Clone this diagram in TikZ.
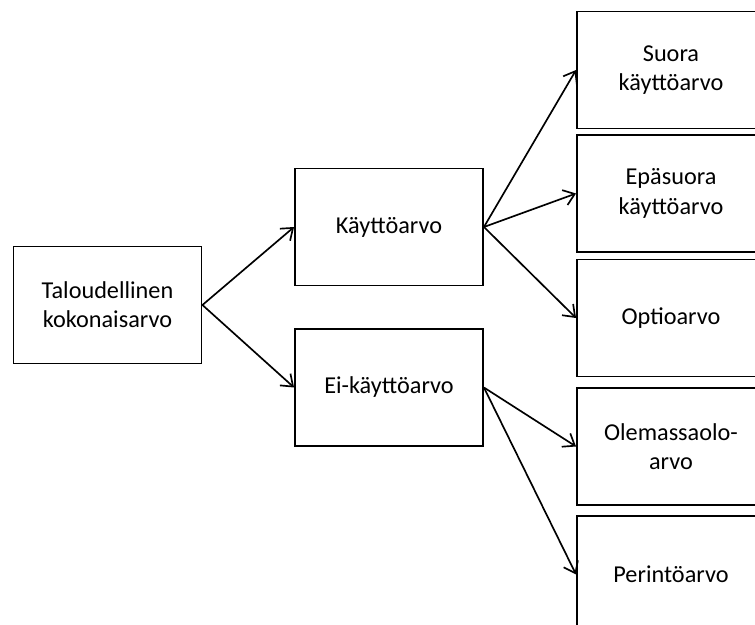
\documentclass[tikz,border=0pt]{standalone}
\usepackage{fontspec}
\setmainfont{Carlito}
\usetikzlibrary{arrows.meta}
\begin{document}
\begin{tikzpicture}[x=0.02cm,y=-0.02cm,
	every node/.style={draw,line width=1.1pt,minimum width=3.76cm,minimum height=2.34cm,
		align=center,font=\fontsize{13.8}{16.6}\selectfont},
	>={Straight Barb[length=6pt,width=9pt]}]

				\useasboundingbox (0,0) rectangle (755,625);
				\clip (0,0) rectangle (755,625);

				\node (total) at (107.5,305) {Taloudellinen\\kokonaisarvo};

				\node (use) at (389,227) {Käyttöarvo};
				\node (nonuse) at (389,387.5) {Ei-käyttöarvo};

				\node (direct) at (671,70) {Suora\\käyttöarvo};
				\node (indirect) at (671,193.5) {Epäsuora\\käyttöarvo};
				\node (option) at (671,318) {Optioarvo};
				\node (exist) at (671,446.5) {Olemassaolo-\\arvo};
				\node (bequest) at (671,574.5) {Perintöarvo};

				\draw[->,line width=0.95pt] (total.east) -- (use.west);
				\draw[->,line width=0.95pt] (total.east) -- (nonuse.west);
				\draw[->,line width=0.95pt] (use.east) -- (direct.west);
				\draw[->,line width=0.95pt] (use.east) -- (indirect.west);
				\draw[->,line width=0.95pt] (use.east) -- (option.west);
				\draw[->,line width=0.95pt] (nonuse.east) -- (exist.west);
				\draw[->,line width=0.95pt] (nonuse.east) -- (bequest.west);

			\end{tikzpicture}
\end{document}
